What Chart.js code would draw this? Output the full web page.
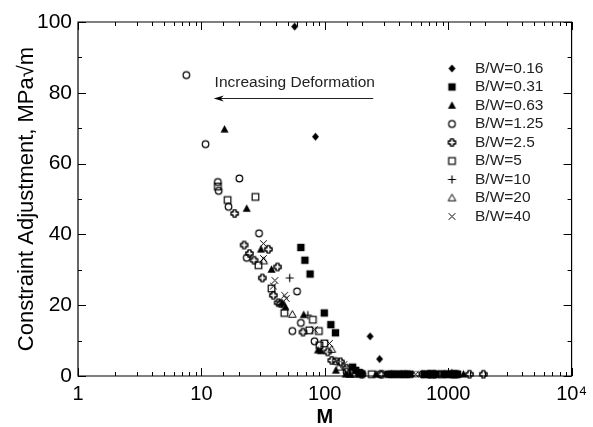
<!DOCTYPE html>
<html>
<head>
<meta charset="utf-8">
<script src="https://cdn.jsdelivr.net/npm/chart.js@4"></script>
<style>
html, body { margin: 0; padding: 0; background: #fff; }
#c { display: block; }
</style>
</head>
<body>
<canvas id="c" width="593" height="427"></canvas>
<script>
// series labels, in legend order
const seriesLabels = ['B/W=0.16', 'B/W=0.31', 'B/W=0.63', 'B/W=1.25', 'B/W=2.5',
    'B/W=5', 'B/W=10', 'B/W=20', 'B/W=40'];

// [M, constraint adjustment] pairs
const bw016 = [[57, 98.7], [84, 67.6], [45, 20.3], [233, 11.2], [278, 4.8],
    [420, 0.5], [680, 0.5], [960, 0.5]];
const bw031 = [[64, 36.3], [69, 32.7], [76, 28.8], [99, 17.8], [112, 14.5], [122, 12.2],
    [168, 2.5], [178, 1.6], [190, 1.0], [200, 0.6], [325, 0.5], [345, 0.5], [365, 0.5],
    [390, 0.5], [415, 0.5], [440, 0.5], [465, 0.5], [490, 0.5], [640, 0.5], [680, 0.5],
    [720, 0.5], [760, 0.5], [800, 0.5], [920, 0.5], [980, 0.5], [1050, 0.5], [1120, 0.5],
    [1190, 0.5]];
const bw063 = [[15.4, 69.7], [23.3, 47.3], [30.4, 35.8], [37, 30.1], [48, 19.5], [67.5, 17.3],
    [88, 7.3], [93, 7.1], [123, 1.6], [148, 0.5], [160, 0.5], [260, 0.5], [350, 0.5],
    [450, 0.5], [700, 0.5], [1000, 0.5], [1330, 0.5]];
const bw125 = [[7.55, 85], [10.8, 65.5], [13.6, 54.8], [13.8, 52.3], [16.6, 47.8], [20.3, 55.8],
    [29.3, 40.3], [23.3, 33.4], [54.6, 12.7], [59.6, 23.9], [64, 15], [82.6, 9.8],
    [123, 4.2], [150, 1.2], [280, 0.5], [620, 0.5]];
const bw25 = [[18.6, 45.9], [22.2, 37.0], [24.5, 34.6], [26.7, 32.7], [34.9, 35.8], [41.4, 30.8],
    [31.2, 27.7], [38.3, 22.8], [41.9, 20.7], [44, 20.5], [66.6, 12.4], [105.6, 6.8],
    [114, 4.4], [134, 4.0], [150, 2.2], [200, 0.5], [290, 0.5], [710, 0.5], [770, 0.5],
    [1490, 0.5], [1930, 0.5]];
const bw5 = [[16.3, 49.7], [13.6, 53.5], [27.4, 50.6], [29, 31.3], [37, 24.7], [47, 17.8],
    [80, 15.9], [75, 12.9], [89.5, 12.7], [99.2, 9.2], [90.6, 8.7], [190, 0.7], [240, 0.5],
    [880, 0.5], [1100, 0.5], [1150, 0.5]];
const bw10 = [[52, 27.7], [73, 17.2], [1070, 0.8]];
const bw20 = [[32, 32.5], [54.6, 17.4], [114, 7.5], [130, 2.5], [160, 0.5], [175, 0.5]];
const bw40 = [[31.8, 37.4], [31.8, 33.2], [39.4, 27], [38.3, 25.4], [47.3, 22.8], [48.7, 21.9],
    [82.6, 13.1], [109, 9.2], [143, 3.3], [510, 0.5], [545, 0.5], [590, 0.5]];

const seriesData = [bw016, bw031, bw063, bw125, bw25, bw5, bw10, bw20, bw40];
const markerKinds = ['diamond', 'square', 'triangle', 'circle', 'crossOutline',
    'openSquare', 'plus', 'openTriangle', 'x'];

// annotation: text and arrow, in data units
const noteText = 'Increasing Deformation';
const noteAt = [12.8, 82.8];
const arrowFrom = [247, 78.4];
const arrowTo = [12.6, 78.4];

const FONT = '"Liberation Sans", Arial, sans-serif';

function makeMarker(kind) {
    const c = document.createElement('canvas');
    c.width = 13;
    c.height = 13;
    const g = c.getContext('2d');
    g.translate(6.5, 6.5);
    g.strokeStyle = '#000';
    g.fillStyle = '#000';
    g.lineWidth = 1.2;
    g.beginPath();
    if (kind === 'diamond') {
        g.moveTo(0, -4); g.lineTo(3.5, 0); g.lineTo(0, 4); g.lineTo(-3.5, 0);
        g.closePath(); g.fill();
    } else if (kind === 'square') {
        g.fillRect(-3.7, -3.7, 7.4, 7.4);
    } else if (kind === 'triangle') {
        g.moveTo(0, -4.2); g.lineTo(4, 3.2); g.lineTo(-4, 3.2);
        g.closePath(); g.fill();
    } else if (kind === 'circle') {
        g.arc(0, 0, 3.3, 0, Math.PI * 2); g.stroke();
    } else if (kind === 'crossOutline') {
        const a = 1.5, e = 3.6;
        const p = [[-a, -e], [a, -e], [a, -a], [e, -a], [e, a], [a, a], [a, e], [-a, e],
            [-a, a], [-e, a], [-e, -a], [-a, -a]];
        g.lineJoin = 'round';
        g.lineWidth = 1.4;
        p.forEach((q, i) => i ? g.lineTo(q[0], q[1]) : g.moveTo(q[0], q[1]));
        g.closePath(); g.stroke();
    } else if (kind === 'openSquare') {
        g.strokeRect(-3.3, -3.3, 6.6, 6.6);
    } else if (kind === 'plus') {
        g.moveTo(-4, 0); g.lineTo(4, 0); g.moveTo(0, -4); g.lineTo(0, 4); g.stroke();
    } else if (kind === 'openTriangle') {
        g.lineWidth = 1;
        g.moveTo(0, -3.8); g.lineTo(3.8, 2.8); g.lineTo(-3.8, 2.8);
        g.closePath(); g.stroke();
    } else if (kind === 'x') {
        g.lineWidth = 1;
        g.moveTo(-3.3, -3.3); g.lineTo(3.3, 3.3); g.moveTo(3.3, -3.3); g.lineTo(-3.3, 3.3);
        g.stroke();
    }
    return c;
}

function isPow10(v) {
    const l = Math.log10(v);
    return Math.abs(l - Math.round(l)) < 1e-9;
}

// inward tick marks on all four sides, plus the top and right frame lines
const frameTicks = {
    id: 'frameTicks',
    afterDraw(chart) {
        const {ctx, chartArea: a, scales: {x, y}} = chart;
        ctx.save();
        ctx.strokeStyle = '#000';
        ctx.lineWidth = 1.2;
        ctx.beginPath();
        ctx.rect(a.left, a.top, a.right - a.left, a.bottom - a.top);
        ctx.stroke();
        ctx.lineWidth = 1;
        ctx.beginPath();
        x.ticks.forEach(t => {
            const px = Math.round(x.getPixelForValue(t.value)) + 0.5;
            const len = isPow10(t.value) ? 8 : 4;
            ctx.moveTo(px, a.bottom); ctx.lineTo(px, a.bottom - len);
            ctx.moveTo(px, a.top); ctx.lineTo(px, a.top + len);
        });
        y.ticks.forEach(t => {
            const py = Math.round(y.getPixelForValue(t.value)) + 0.5;
            const len = t.value % 20 === 0 ? 8 : 4;
            ctx.moveTo(a.left, py); ctx.lineTo(a.left + len, py);
            ctx.moveTo(a.right, py); ctx.lineTo(a.right - len, py);
        });
        ctx.stroke();
        ctx.restore();
    }
};

const legendBox = {
    id: 'legendBox',
    afterDraw(chart) {
        const ctx = chart.ctx;
        ctx.save();
        ctx.font = '15.5px ' + FONT;
        ctx.fillStyle = '#222';
        ctx.textBaseline = 'middle';
        chart.data.datasets.forEach((ds, i) => {
            const yy = 68.5 + i * 18.5;
            const img = ds.pointStyle;
            ctx.drawImage(img, 452 - img.width / 2, yy - img.height / 2);
            ctx.fillText(ds.label, 475, yy);
        });
        ctx.restore();
    }
};

const note = {
    id: 'note',
    afterDraw(chart) {
        const {ctx, scales: {x, y}} = chart;
        ctx.save();
        ctx.font = '15.5px ' + FONT;
        ctx.fillStyle = '#222';
        ctx.textBaseline = 'middle';
        ctx.fillText(noteText, x.getPixelForValue(noteAt[0]), y.getPixelForValue(noteAt[1]));
        const x0 = x.getPixelForValue(arrowFrom[0]);
        const x1 = x.getPixelForValue(arrowTo[0]);
        const yy = Math.round(y.getPixelForValue(arrowFrom[1])) + 0.5;
        ctx.strokeStyle = '#222';
        ctx.lineWidth = 1;
        ctx.beginPath();
        ctx.moveTo(x0, yy); ctx.lineTo(x1 + 4, yy);
        ctx.stroke();
        ctx.fillStyle = '#000';
        ctx.beginPath();
        ctx.moveTo(x1, yy); ctx.lineTo(x1 + 10, yy - 3); ctx.lineTo(x1 + 7, yy); ctx.lineTo(x1 + 10, yy + 3);
        ctx.closePath();
        ctx.fill();
        ctx.restore();
    }
};

const datasets = seriesData.map((pts, i) => ({
    label: seriesLabels[i],
    data: pts.map(p => ({x: p[0], y: p[1]})),
    pointStyle: makeMarker(markerKinds[i]),
    pointRadius: 4,
    showLine: false,
    clip: false
}));

new Chart(document.getElementById('c'), {
    type: 'scatter',
    data: {datasets},
    options: {
        responsive: false,
        animation: false,
        devicePixelRatio: 1,
        layout: {padding: {top: 22, right: 17, left: 0, bottom: 0}},
        plugins: {legend: {display: false}, tooltip: {enabled: false}},
        scales: {
            x: {
                type: 'logarithmic',
                min: 1,
                max: 10000,
                grid: {drawOnChartArea: false, drawTicks: false},
                border: {display: false},
                ticks: {
                    autoSkip: false,
                    maxRotation: 0,
                    padding: 6,
                    color: '#000',
                    font: {family: FONT, size: 20},
                    callback: v => isPow10(v) ? (v === 10000 ? '10\u2074' : String(v)) : ''
                },
                title: {
                    display: true,
                    text: 'M',
                    color: '#000',
                    font: {family: FONT, size: 20, weight: 'bold'},
                    padding: {top: 0, bottom: -2}
                },
                afterFit: s => { s.height = 51; }
            },
            y: {
                min: 0,
                max: 100,
                grid: {drawOnChartArea: false, drawTicks: false},
                border: {display: false},
                ticks: {
                    stepSize: 5,
                    padding: 6,
                    color: '#000',
                    font: {family: FONT, size: 21},
                    callback: v => v % 20 === 0 ? v : ''
                },
                title: {
                    display: true,
                    text: 'Constraint Adjustment, MPa\u221Am',
                    color: '#000',
                    font: {family: FONT, size: 22},
                    padding: {top: 14, bottom: 0}
                },
                afterFit: s => { s.width = 78; }
            }
        }
    },
    plugins: [frameTicks, legendBox, note]
});
</script>
</body>
</html>
